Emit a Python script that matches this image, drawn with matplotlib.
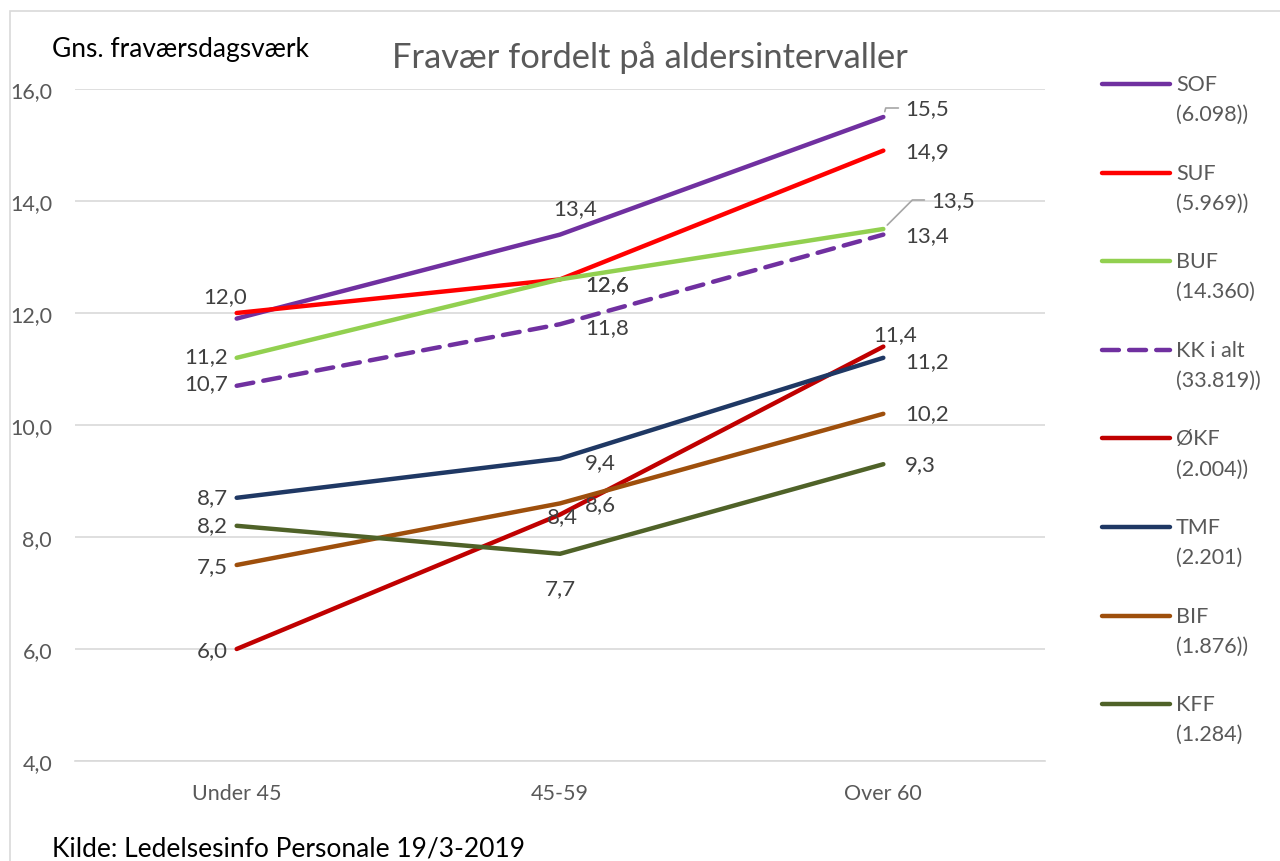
import matplotlib
matplotlib.use("Agg")
import matplotlib.pyplot as plt
from matplotlib.lines import Line2D
from matplotlib.patches import Rectangle

plt.rcParams['font.family'] = ['Lato', 'DejaVu Sans']

categories = ["Under 45", "45-59", "Over 60"]
series_names = ["SOF", "SUF", "BUF", "KK i alt", "ØKF", "TMF", "BIF", "KFF"]
legend_counts = ["(6.098))", "(5.969))", "(14.360)", "(33.819))", "(2.004))", "(2.201)", "(1.876))", "(1.284)"]
sof = [11.9, 13.4, 15.5]
suf = [12.0, 12.6, 14.9]
buf = [11.2, 12.6, 13.5]
kk = [10.7, 11.8, 13.4]
okf = [6.0, 8.4, 11.4]
tmf = [8.7, 9.4, 11.2]
bif = [7.5, 8.6, 10.2]
kff = [8.2, 7.7, 9.3]
yticks = [4, 6, 8, 10, 12, 14, 16]

values = [sof, suf, buf, kk, okf, tmf, bif, kff]
colors = ["#7030A0", "#FF0000", "#92D050", "#7030A0", "#C00000", "#1F3864", "#9E4F0C", "#4F6228"]
styles = ["-", "-", "-", (0, (3.8, 2.3)), "-", "-", "-", "-"]

LBL = 16
W, H = 1280, 862
fig = plt.figure(figsize=(W / 100, H / 100), dpi=100)
fig.patches.append(Rectangle((10 / W, -0.1), 1.2, 1 - 12 / H + 0.1, transform=fig.transFigure,
                             fill=False, edgecolor="#d9d9d9", lw=1.2))

ax_left, ax_right = 75 / W, 1045 / W
ax_top, ax_bot = 1 - 90 / H, 1 - 762 / H
ax = fig.add_axes([ax_left, ax_bot, ax_right - ax_left, ax_top - ax_bot])
x = list(range(len(categories)))
for vals, c, ls in zip(values, colors, styles):
    ax.plot(x, vals, color=c, lw=3.2, ls=ls, solid_capstyle="round", dash_capstyle="round")

ax.set_xlim(-0.5, 2.5)
ax.set_ylim(4, 16)
ax.set_yticks(yticks)
ax.set_yticklabels([f"{t:.1f}".replace(".", ",") for t in yticks])
ax.set_xticks(x)
ax.set_xticklabels(categories)
ax.tick_params(axis="both", length=0, colors="#595959", labelsize=15.5)
ax.tick_params(axis="y", pad=16.5)
ax.tick_params(axis="x", pad=16)
ax.grid(axis="y", color="#d9d9d9", lw=1.2)
ax.set_axisbelow(True)
for s in ["top", "right", "left"]:
    ax.spines[s].set_visible(False)
ax.spines["bottom"].set_color("#d9d9d9")
ax.spines["bottom"].set_linewidth(1.2)

# label layout: (series index, point index, dx px, dy px, ha)
label_layout = [
    (1, 0, -12, 17, "center"),
    (2, 0, -9, 2, "right"), (3, 0, -9, 3, "right"), (5, 0, -9, 1, "right"),
    (7, 0, -9, 1, "right"), (6, 0, -9, -1, "right"), (4, 0, -9, -1, "right"),
    (0, 1, 15, 27, "center"),
    (1, 1, 25, -5, "left"), (2, 1, 25, -5, "left"),
    (3, 1, 25, -3, "left"), (5, 1, 25, -3, "left"),
    (4, 1, 2, -1, "center"), (6, 1, 25, -1, "left"),
    (7, 1, 0, -34, "center"),
    (1, 2, 22, 0, "left"), (3, 2, 22, 0, "left"),
    (4, 2, 12, 13, "center"), (5, 2, 22, -3, "left"),
    (6, 2, 22, 1, "left"), (7, 2, 22, 0, "left"),
]
for si, pi, dx, dy, ha in label_layout:
    v = values[si][pi]
    ax.annotate(f"{v:.1f}".replace(".", ","), (x[pi], v), xytext=(dx, dy),
                textcoords="offset pixels", ha=ha, va="center",
                fontsize=LBL, color="#404040")

# labels with leader lines
for si, pi, dx, dy, angB in [(0, 2, 22, 9, 75), (2, 2, 48, 29, 45)]:
    v = values[si][pi]
    ax.annotate(f"{v:.1f}".replace(".", ","), (x[pi], v), xytext=(dx, dy),
                textcoords="offset pixels", ha="left", va="center",
                fontsize=LBL, color="#404040",
                arrowprops=dict(arrowstyle="-", color="#a6a6a6", lw=1.2,
                                shrinkA=3, shrinkB=4, relpos=(0, 0.5),
                                connectionstyle=f"angle,angleA=0,angleB={angB},rad=0"))

# titles
fig.text(650 / W, 1 - 58 / H, "Fravær fordelt på aldersintervaller", ha="center", va="center",
         fontsize=24.8, color="#595959")
fig.text(52 / W, 1 - 50 / H, "Gns. fraværsdagsværk", ha="left", va="center",
         fontsize=19, color="black")
fig.text(52 / W, 1 - 849 / H, "Kilde: Ledelsesinfo Personale 19/3-2019", ha="left", va="center",
         fontsize=19, color="black")

# legend
ly0, lstep = 85, 88.6
for i, (name, cnt, c, ls) in enumerate(zip(series_names, legend_counts, colors, styles)):
    yy = 1 - (ly0 + i * lstep) / H
    fig.add_artist(Line2D([1102 / W, 1170 / W], [yy, yy], transform=fig.transFigure,
                          color=c, lw=3.2, ls=ls, solid_capstyle="round", dash_capstyle="round"))
    fig.text(1176 / W, yy, name, ha="left", va="center", fontsize=15.5, color="#595959")
    fig.text(1176 / W, yy - 30 / H, cnt, ha="left", va="center", fontsize=15.5, color="#595959")

fig.savefig("out.png", dpi=100)
